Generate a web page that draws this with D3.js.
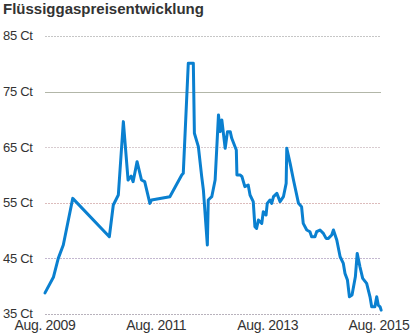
<!DOCTYPE html>
<html><head><meta charset="utf-8">
<script src="https://cdn.jsdelivr.net/npm/d3@7"></script>
<style>
html,body{margin:0;padding:0;background:#fff;}
svg{display:block;}
</style></head>
<body>
<svg id="c" width="411" height="335"></svg>
<script>
const title = "Flüssiggaspreisentwicklung";
const yTicks = [35, 45, 55, 65, 75, 85];
const yTickLabels = ["35 Ct", "45 Ct", "55 Ct", "65 Ct", "75 Ct", "85 Ct"];
const xTickDates = ["2009-08-01", "2011-08-01", "2013-08-01", "2015-08-01"];
const xTickLabels = ["Aug. 2009", "Aug. 2011", "Aug. 2013", "Aug. 2015"];
const dates = [
 "2009-08-01","2009-09-25","2009-10-27","2009-11-29","2010-01-30","2010-09-27","2010-10-23","2010-11-25","2010-12-28",
 "2011-01-28","2011-02-17","2011-03-02","2011-03-28","2011-04-26","2011-05-17","2011-06-20","2011-07-01","2011-10-29",
 "2012-01-15","2012-01-25","2012-02-27","2012-03-31","2012-04-07","2012-05-03","2012-05-25","2012-06-05","2012-07-01",
 "2012-07-07","2012-07-30","2012-08-21","2012-09-12","2012-09-23","2012-10-04","2012-10-26","2012-11-10","2012-11-28",
 "2012-12-08","2013-01-07","2013-01-11","2013-02-02","2013-02-13","2013-03-04","2013-03-26","2013-04-07","2013-04-28",
 "2013-05-09","2013-05-20","2013-06-01","2013-06-23","2013-07-03","2013-07-21","2013-07-29","2013-08-16","2013-08-27",
 "2013-09-08","2013-09-30","2013-10-21","2013-11-12","2013-11-30","2013-12-04","2013-12-26","2014-01-17","2014-02-19",
 "2014-03-11","2014-03-22","2014-04-14","2014-05-05","2014-05-16","2014-06-07","2014-06-18","2014-07-10","2014-08-01",
 "2014-08-19","2014-09-03","2014-09-25","2014-10-06","2014-10-28","2014-11-19","2014-12-10","2014-12-21","2015-01-06",
 "2015-01-19","2015-02-05","2015-02-27","2015-03-11","2015-03-29","2015-04-16","2015-05-12","2015-05-23","2015-06-03",
 "2015-06-14","2015-07-05","2015-07-17","2015-07-27","2015-08-08","2015-08-15"
];
const prices = [
 38.8,41.6,45.0,47.4,55.8,48.9,54.6,56.4,69.6,
 59.1,59.8,58.8,62.4,59.1,58.8,54.9,55.5,56.1,
 60.0,60.3,80.1,80.1,67.5,65.1,59.7,57.3,47.4,
 55.5,56.1,59.1,70.8,67.8,69.9,64.8,67.8,67.8,
 66.6,64.5,60.0,60.0,59.7,57.9,58.2,56.4,55.2,
 50.7,50.4,51.9,51.3,53.4,52.8,54.9,55.5,54.9,
 56.1,56.7,55.2,56.1,58.5,64.8,62.1,59.1,54.9,
 54.3,51.3,50.1,49.8,48.9,48.9,49.8,50.1,49.5,
 48.6,48.6,49.2,50.1,48.3,45.3,44.1,42.3,41.1,
 38.1,38.4,41.7,45.9,43.5,41.4,40.5,39.3,38.1,
 36.3,36.3,38.1,36.6,36.3,35.7
];
const gridColors = ["#b8b2bc", "#c4b8d0", "#dcbcbc", "#d8ccd0", "#b2b6a8", "#c6c6c6"];

const parse = d3.timeParse("%Y-%m-%d");
const data = dates.map((d, i) => ({date: parse(d), value: prices[i]}));

const svg = d3.select("#c");
const x = d3.scaleTime().domain([parse(xTickDates[0]), parse(xTickDates[3])]).range([45, 379]);
const y = d3.scaleLinear().domain([35, 85]).range([314, 36]);
const gridX0 = 45, gridX1 = 381;

svg.append("text").attr("x", 3).attr("y", 14)
  .attr("font-family", "Liberation Sans, Arial, sans-serif").attr("font-weight", "bold")
  .attr("font-size", 15).attr("fill", "#333").text(title);

const grid = svg.append("g");
yTicks.forEach((t, i) => {
  grid.append("line").attr("x1", gridX0).attr("x2", gridX1)
    .attr("y1", Math.round(y(t)) + 0.5).attr("y2", Math.round(y(t)) + 0.5)
    .attr("stroke", gridColors[i]).attr("stroke-width", 1.2)
    .attr("stroke-dasharray", t === 75 ? null : "2,1");
  grid.append("text").attr("x", 3).attr("y", y(t)).attr("dy", "0.34em")
    .attr("font-family", "Liberation Sans, Arial, sans-serif").attr("font-size", 13)
    .attr("fill", "#333").attr("letter-spacing", "-0.3").text(yTickLabels[i]);
});

xTickDates.forEach((d, i) => {
  svg.append("text").attr("x", x(parse(d))).attr("y", 330)
    .attr("text-anchor", "middle")
    .attr("font-family", "Liberation Sans, Arial, sans-serif").attr("font-size", 14)
    .attr("fill", "#333").attr("letter-spacing", "-0.3").text(xTickLabels[i]);
});

const line = d3.line().x(d => x(d.date)).y(d => y(d.value));
svg.append("path").datum(data).attr("d", line)
  .attr("fill", "none").attr("stroke", "#0a80d0").attr("stroke-width", 3)
  .attr("stroke-linejoin", "round").attr("stroke-linecap", "round");
</script>
</body></html>
